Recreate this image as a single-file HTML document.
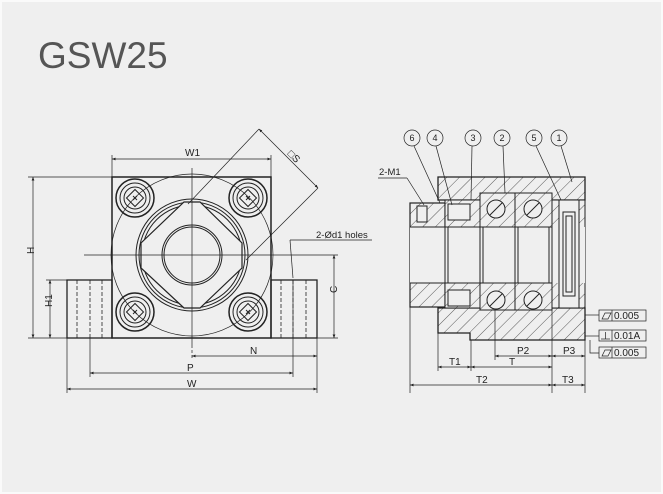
<!DOCTYPE html>
<html><head><meta charset="utf-8"><style>
html,body{margin:0;padding:0;background:#fff}
svg{display:block}
text{font-family:"Liberation Sans",sans-serif;fill:#222}
</style></head><body>
<svg width="663" height="494" viewBox="0 0 663 494" xmlns="http://www.w3.org/2000/svg">
<defs>
<pattern id="h" width="9" height="9" patternUnits="userSpaceOnUse" patternTransform="rotate(45)">
<rect width="9" height="9" fill="#efefef"/><line x1="0" y1="0" x2="0" y2="9" stroke="#333" stroke-width="0.8"/>
</pattern>
<marker id="a" markerWidth="6" markerHeight="6" refX="5" refY="3" orient="auto-start-reverse"><path d="M0,1 L5,3 L0,5z" fill="#222"/></marker>
</defs>
<rect x="0" y="0" width="663" height="494" fill="#fafafa"/>
<rect x="2" y="2" width="659" height="490" fill="#efefef"/>
<text x="38" y="68" font-size="37" style="fill:#555">GSW25</text>

<g stroke="#222" fill="none" stroke-width="1">
<!-- left view -->
<rect x="67" y="280" width="45" height="58" stroke-width="1.3"/>
<rect x="271" y="280" width="46" height="58" stroke-width="1.3"/>
<g stroke-dasharray="4,2" stroke-width="0.8">
<line x1="77" y1="280" x2="77" y2="338"/><line x1="90" y1="280" x2="90" y2="338"/><line x1="102" y1="280" x2="102" y2="338"/>
<line x1="281" y1="280" x2="281" y2="338"/><line x1="293" y1="280" x2="293" y2="338"/><line x1="306" y1="280" x2="306" y2="338"/>
</g>
<path d="M112,177 H271 V338 H112 Z" stroke-width="1.5"/>
<circle cx="192" cy="255" r="81" stroke-width="0.7"/>
<circle cx="192" cy="255" r="56"/><circle cx="192" cy="255" r="53"/><circle cx="192" cy="255" r="50"/>
<path d="M184,202 H200 L242,243 V268 L200,308 H184 L141,268 V243 Z" fill="#efefef" stroke-width="1.2"/>
<circle cx="192" cy="255" r="30"/><circle cx="192" cy="255" r="28"/>
<g id="b">
<circle cx="135" cy="198" r="19" stroke-width="1.5"/><circle cx="135" cy="198" r="15"/><circle cx="135" cy="198" r="11"/>
<path d="M129,192 h12 v12 h-12z" transform="rotate(45 135 198)"/>
<line x1="133" y1="196" x2="137" y2="200"/><line x1="137" y1="196" x2="133" y2="200"/>
</g>
<use href="#b" x="113"/><use href="#b" y="114"/><use href="#b" x="113" y="114"/>
<line x1="84" y1="255" x2="300" y2="255" stroke-width="0.7"/>
<line x1="192" y1="168" x2="192" y2="345" stroke-width="0.7"/>
<line x1="192" y1="345" x2="192" y2="358" stroke-width="0.7" stroke-dasharray="3,2"/>
<!-- dims left -->
<g stroke-width="0.7">
<line x1="112" y1="177" x2="112" y2="155"/><line x1="271" y1="177" x2="271" y2="155"/>
<line x1="112" y1="159" x2="271" y2="159" marker-start="url(#a)" marker-end="url(#a)"/>
<line x1="28" y1="177" x2="112" y2="177"/><line x1="28" y1="338" x2="67" y2="338"/>
<line x1="33" y1="177" x2="33" y2="338" marker-start="url(#a)" marker-end="url(#a)"/>
<line x1="46" y1="280" x2="67" y2="280"/>
<line x1="50" y1="280" x2="50" y2="338" marker-start="url(#a)" marker-end="url(#a)"/>
<line x1="300" y1="255" x2="338" y2="255"/><line x1="317" y1="338" x2="338" y2="338"/>
<line x1="334" y1="255" x2="334" y2="338" marker-start="url(#a)" marker-end="url(#a)"/>
<line x1="317" y1="338" x2="317" y2="393"/><line x1="67" y1="338" x2="67" y2="393"/>
<line x1="90" y1="338" x2="90" y2="377"/><line x1="293" y1="280" x2="293" y2="377"/>
<line x1="192" y1="356" x2="317" y2="356" marker-start="url(#a)" marker-end="url(#a)"/>
<line x1="90" y1="373" x2="293" y2="373" marker-start="url(#a)" marker-end="url(#a)"/>
<line x1="67" y1="389" x2="317" y2="389" marker-start="url(#a)" marker-end="url(#a)"/>
<line x1="259" y1="129" x2="188" y2="204"/><line x1="318" y1="188" x2="246" y2="260"/>
<line x1="259" y1="129" x2="318" y2="188" marker-start="url(#a)" marker-end="url(#a)"/>
<line x1="290" y1="240" x2="372" y2="240"/><line x1="290" y1="240" x2="293" y2="278"/>
</g>

<!-- right view -->
<path d="M438,177 H585 V200 H438 Z" fill="url(#h)" stroke-width="1.3"/>
<path d="M438,308 H585 V340 H470 V333 H438 Z" fill="url(#h)" stroke-width="1.3"/>
<rect x="410" y="203" width="35" height="104" fill="url(#h)" stroke-width="1.2"/>
<rect x="410" y="227" width="35" height="56" fill="#efefef"/>
<rect x="445" y="200" width="35" height="27" fill="url(#h)"/>
<rect x="445" y="283" width="35" height="25" fill="url(#h)"/>
<rect x="480" y="193" width="72" height="34" fill="url(#h)"/>
<rect x="480" y="283" width="72" height="27" fill="url(#h)"/>
<rect x="552" y="200" width="33" height="108" fill="url(#h)"/>
<rect x="410" y="227" width="175" height="56" fill="#efefef" stroke="none"/>
<line x1="410" y1="227" x2="552" y2="227"/><line x1="410" y1="283" x2="552" y2="283"/>
<line x1="445" y1="203" x2="445" y2="307"/><line x1="448" y1="227" x2="448" y2="283"/>
<line x1="480" y1="200" x2="480" y2="308"/><line x1="483" y1="227" x2="483" y2="283"/>
<line x1="515" y1="193" x2="515" y2="310"/><line x1="518" y1="227" x2="518" y2="283"/>
<line x1="549" y1="227" x2="549" y2="283"/><line x1="552" y1="193" x2="552" y2="310"/>
<rect x="559" y="200" width="20" height="108" fill="#efefef"/>
<rect x="563" y="212" width="12" height="84"/><rect x="566" y="216" width="6" height="76"/>
<g fill="#efefef">
<circle cx="496" cy="209" r="9"/><circle cx="533" cy="209" r="9"/>
<circle cx="496" cy="300" r="9"/><circle cx="533" cy="300" r="9"/>
<rect x="448" y="204" width="22" height="16"/><rect x="448" y="290" width="22" height="16"/>
<rect x="417" y="206" width="10" height="16"/>
</g>
<line x1="490" y1="215" x2="502" y2="203"/><line x1="527" y1="215" x2="539" y2="203"/>
<line x1="490" y1="306" x2="502" y2="294"/><line x1="527" y1="306" x2="539" y2="294"/>
<!-- dims right -->
<g stroke-width="0.7">
<line x1="410" y1="307" x2="410" y2="393"/><line x1="438" y1="333" x2="438" y2="371"/>
<line x1="471" y1="340" x2="471" y2="371"/><line x1="552" y1="310" x2="552" y2="393"/>
<line x1="585" y1="340" x2="585" y2="393"/><line x1="495" y1="310" x2="495" y2="360"/>
<line x1="495" y1="356" x2="552" y2="356" marker-start="url(#a)" marker-end="url(#a)"/>
<line x1="552" y1="356" x2="585" y2="356" marker-start="url(#a)" marker-end="url(#a)"/>
<line x1="438" y1="367" x2="471" y2="367" marker-start="url(#a)" marker-end="url(#a)"/>
<line x1="471" y1="367" x2="552" y2="367" marker-start="url(#a)" marker-end="url(#a)"/>
<line x1="410" y1="385" x2="552" y2="385" marker-start="url(#a)" marker-end="url(#a)"/>
<line x1="552" y1="385" x2="585" y2="385" marker-start="url(#a)" marker-end="url(#a)"/>
<line x1="585" y1="315" x2="599" y2="315"/><line x1="585" y1="336" x2="599" y2="336"/>
<polyline points="590,340 590,353 599,353"/>
<rect x="599" y="310" width="47" height="11"/><line x1="612" y1="310" x2="612" y2="321"/>
<rect x="599" y="330" width="47" height="11"/><line x1="612" y1="330" x2="612" y2="341"/>
<rect x="599" y="347" width="47" height="11"/><line x1="612" y1="347" x2="612" y2="358"/>
<path d="M602,319 l3,-6 h6 l-3,6z"/><path d="M602,356 l3,-6 h6 l-3,6z"/>
<line x1="601" y1="339" x2="610" y2="339"/><line x1="605.5" y1="339" x2="605.5" y2="332"/>
<circle cx="412" cy="138" r="8"/><circle cx="435" cy="138" r="8"/><circle cx="473" cy="138" r="8"/>
<circle cx="502" cy="138" r="8"/><circle cx="534" cy="138" r="8"/><circle cx="559" cy="138" r="8"/>
<line x1="414" y1="146" x2="440" y2="203"/><line x1="436" y1="146" x2="452" y2="205"/>
<line x1="472" y1="146" x2="471" y2="200"/><line x1="503" y1="146" x2="505" y2="193"/>
<line x1="536" y1="146" x2="561" y2="200"/><line x1="561" y1="146" x2="572" y2="182"/>
<line x1="378" y1="178" x2="407" y2="178"/><line x1="407" y1="178" x2="424" y2="205"/>
</g>
</g>
<g font-size="10">
<text x="185" y="156">W1</text>
<text x="34" y="262" transform="rotate(-90 30 258)">H</text>
<text x="49" y="316" transform="rotate(-90 46 310)">H1</text>
<text x="336" y="302" transform="rotate(-90 332 297)">C</text>
<text x="288" y="158" transform="rotate(45 292 155)">□S</text>
<text x="316" y="238" font-size="9.5">2-Ød1 holes</text>
<text x="250" y="354">N</text>
<text x="187" y="371">P</text>
<text x="187" y="387">W</text>
<text x="379" y="175" font-size="9.5">2-M1</text>
<g font-size="9" text-anchor="middle">
<text x="412" y="141">6</text><text x="435" y="141">4</text><text x="473" y="141">3</text>
<text x="502" y="141">2</text><text x="534" y="141">5</text><text x="559" y="141">1</text>
</g>
<text x="517" y="354">P2</text><text x="563" y="354">P3</text>
<text x="449" y="365">T1</text><text x="509" y="365">T</text>
<text x="476" y="383">T2</text><text x="562" y="383">T3</text>
<text x="614" y="319">0.005</text><text x="614" y="339">0.01A</text><text x="614" y="356">0.005</text>
</g>
</svg>
</body></html>
